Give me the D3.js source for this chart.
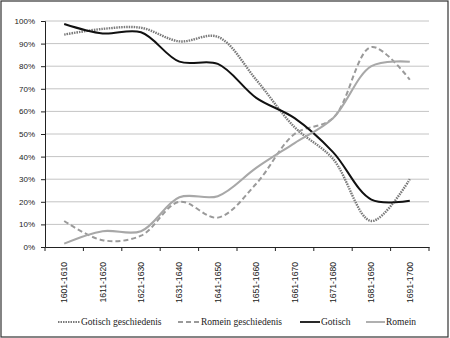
<!DOCTYPE html>
<html>
<head>
<meta charset="utf-8">
<script src="https://cdn.jsdelivr.net/npm/d3@7"></script>
<style>
  body { margin: 0; background: #fff; }
  svg text { font-family: "Liberation Sans", Arial, sans-serif; }
</style>
</head>
<body>
<div class="container"></div>
<script>
var w = 450;
var h = 338;

var periods = ["1601-1610", "1611-1620", "1621-1630", "1631-1640", "1641-1650",
  "1651-1660", "1661-1670", "1671-1680", "1681-1690", "1691-1700"];
var gotischGeschiedenis = [94, 96.5, 97, 91, 93, 74, 53, 39, 11.5, 30];
var romeinGeschiedenis = [11.5, 3, 5, 20, 13, 28, 50, 57, 88.5, 74];
var gotisch = [98.7, 94.5, 95, 82, 81, 66, 57, 42, 21, 20.5];
var romein = [1.5, 7, 7, 22, 22.5, 35, 46, 57, 80, 82];
var yTicks = [0, 10, 20, 30, 40, 50, 60, 70, 80, 90, 100];

var series = [
  { name: "Gotisch geschiedenis", values: gotischGeschiedenis, color: "#7a7a7a", width: 2.4, dash: "1.5,1" },
  { name: "Romein geschiedenis", values: romeinGeschiedenis, color: "#9a9a9a", width: 2, dash: "5,3" },
  { name: "Gotisch", values: gotisch, color: "#111", width: 2, dash: null },
  { name: "Romein", values: romein, color: "#a8a8a8", width: 2.1, dash: null }
];

var canvas = d3.select(".container")
  .append("svg")
  .attr("width", w)
  .attr("height", h);

// outer frame
canvas.append("rect")
  .attr("x", 1).attr("y", 1)
  .attr("width", w - 3).attr("height", h - 2)
  .attr("fill", "#fff")
  .attr("stroke", "#333")
  .attr("stroke-width", 1.2);

var xScale = d3.scaleBand().domain(periods).range([45, 429]);
var yScale = d3.scaleLinear().domain([0, 100]).range([247, 21]);

// gridlines
canvas.append("g")
  .selectAll("line")
  .data(yTicks.slice(1))
  .enter()
  .append("line")
  .attr("x1", 45).attr("x2", 429)
  .attr("y1", d => yScale(d)).attr("y2", d => yScale(d))
  .attr("stroke", "#c4c4c4")
  .attr("stroke-width", 1);

// y axis
var yAxis = canvas.append("g")
  .attr("transform", "translate(45,0)")
  .call(d3.axisLeft(yScale).tickValues(yTicks).tickFormat(d => d + "%").tickSize(4).tickPadding(6));
yAxis.selectAll("text").attr("font-size", 8).attr("fill", "#222");
yAxis.selectAll("line, path").attr("stroke", "#222");

// x axis
var xAxis = canvas.append("g")
  .attr("transform", "translate(0,247)")
  .call(d3.axisBottom(xScale).tickSize(0).tickFormat(""));
xAxis.select("path").attr("stroke", "#222");

canvas.append("g")
  .selectAll("line")
  .data(d3.range(periods.length + 1))
  .enter()
  .append("line")
  .attr("x1", i => 45 + i * xScale.bandwidth())
  .attr("x2", i => 45 + i * xScale.bandwidth())
  .attr("y1", 247).attr("y2", 251)
  .attr("stroke", "#222");

canvas.append("g")
  .selectAll("text")
  .data(periods)
  .enter()
  .append("text")
  .attr("transform", d => "translate(" + (xScale(d) + xScale.bandwidth() / 2 + 3) + ",262) rotate(-90)")
  .attr("text-anchor", "end")
  .attr("font-size", 8.6)
  .attr("fill", "#222")
  .text(d => d);

// lines
var line = d3.line()
  .x((d, i) => xScale(periods[i]) + xScale.bandwidth() / 2)
  .y(d => yScale(d))
  .curve(d3.curveCatmullRom.alpha(0.5));

canvas.append("g")
  .selectAll("path")
  .data(series)
  .enter()
  .append("path")
  .attr("d", d => line(d.values))
  .attr("fill", "none")
  .attr("stroke", d => d.color)
  .attr("stroke-width", d => d.width)
  .attr("stroke-dasharray", d => d.dash);

// legend
var legendX = [58, 178, 300, 366];
var legendLen = [22, 22, 20, 19];
var legend = canvas.append("g")
  .selectAll("g")
  .data(series)
  .enter()
  .append("g")
  .attr("transform", (d, i) => "translate(" + legendX[i] + ",322)");

legend.append("line")
  .attr("x1", 0).attr("x2", (d, i) => legendLen[i])
  .attr("y1", 0).attr("y2", 0)
  .attr("stroke", d => d.color)
  .attr("stroke-width", d => Math.min(d.width, 1.8))
  .attr("stroke-dasharray", d => d.dash);

legend.append("text")
  .attr("x", (d, i) => legendLen[i] + 1)
  .attr("y", 3)
  .attr("font-size", 9.5)
  .attr("fill", "#222")
  .style("font-family", "'Liberation Serif', 'DejaVu Serif', serif")
  .text(d => d.name);
</script>
</body>
</html>
